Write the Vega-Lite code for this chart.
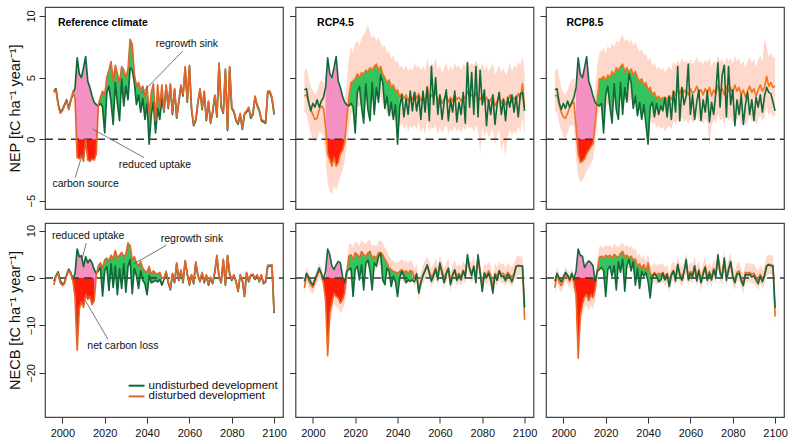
{
"$schema": "https://vega.github.io/schema/vega-lite/v6.json",
"background": "white",
"padding": {"left": 6, "top": 6, "right": 5, "bottom": 5},
"spacing": 12,
"config": {
 "font": "Liberation Sans",
 "view": {"stroke": "#444", "strokeWidth": 1.2},
 "axis": {"domain": false, "grid": false, "tickColor": "#333", "tickSize": 6, "tickWidth": 1, "labelFontSize": 11, "labelColor": "#111", "titleFontSize": 14.5, "titleFontWeight": "normal", "titleColor": "#111"},
 "line": {"strokeJoin": "round"}
},
"datasets": {
"A": [
{"t":1996,"u":3.9,"d":3.8},{"t":1997,"u":4.1,"d":4.0},{"t":1998,"u":2.9,"d":2.8},{"t":1999,"u":2.2,"d":2.1},{"t":2000,"u":2.4,"d":2.3},
{"t":2001,"u":2.8,"d":2.7},{"t":2002,"u":3.2,"d":3.1},{"t":2003,"u":2.5,"d":2.4},{"t":2004,"u":3.2,"d":3.1},{"t":2005,"u":3.6,"d":3.9},
{"t":2006,"u":4.2,"d":3.3},{"t":2007,"u":6.6,"d":-1.5},{"t":2008,"u":5.3,"d":-1.6},{"t":2009,"u":5.0,"d":-1.3},{"t":2010,"u":5.8,"d":-1.8},
{"t":2011,"u":6.7,"d":0.0},{"t":2012,"u":4.7,"d":-1.7},{"t":2013,"u":4.2,"d":-1.8},{"t":2014,"u":3.5,"d":-1.6},{"t":2015,"u":3.0,"d":-1.7},
{"t":2016,"u":2.8,"d":-1.2},{"t":2017,"u":2.7,"d":2.8},{"t":2018,"u":2.9,"d":3.4},{"t":2019,"u":2.6,"d":3.9},{"t":2020,"u":0.5,"d":3.6},
{"t":2021,"u":3.8,"d":5.0},{"t":2022,"u":4.3,"d":5.6},{"t":2023,"u":3.0,"d":6.3},{"t":2024,"u":1.2,"d":4.7},{"t":2025,"u":4.6,"d":6.0},
{"t":2026,"u":2.9,"d":5.3},{"t":2027,"u":1.5,"d":4.6},{"t":2028,"u":4.9,"d":5.9},{"t":2029,"u":2.7,"d":5.6},{"t":2030,"u":4.3,"d":5.0},
{"t":2031,"u":3.2,"d":5.7},{"t":2032,"u":5.8,"d":8.1},{"t":2033,"u":5.6,"d":7.7},{"t":2034,"u":4.6,"d":5.3},{"t":2035,"u":2.8,"d":4.3},
{"t":2036,"u":3.6,"d":4.6},{"t":2037,"u":2.2,"d":4.0},{"t":2038,"u":3.3,"d":4.3},{"t":2039,"u":1.6,"d":3.4},{"t":2040,"u":2.9,"d":4.3},
{"t":2041,"u":-0.4,"d":2.0},{"t":2042,"u":2.0,"d":3.8},{"t":2043,"u":3.0,"d":4.5},{"t":2044,"u":0.5,"d":1.5},{"t":2045,"u":2.5,"d":4.4},
{"t":2046,"u":1.6,"d":2.6},{"t":2047,"u":3.3,"d":4.4},{"t":2048,"u":2.2,"d":2.3},{"t":2049,"u":4.3,"d":4.4},{"t":2050,"u":2.5,"d":2.6},
{"t":2051,"u":4.4,"d":4.5},{"t":2052,"u":2.0,"d":2.1},{"t":2053,"u":4.0,"d":4.1},{"t":2054,"u":1.7,"d":1.8},{"t":2055,"u":3.0,"d":3.1},
{"t":2056,"u":4.3,"d":4.4},{"t":2057,"u":3.5,"d":3.6},{"t":2058,"u":5.8,"d":5.9},{"t":2059,"u":3.0,"d":3.1},{"t":2060,"u":5.9,"d":6.0},
{"t":2061,"u":2.4,"d":2.5},{"t":2062,"u":1.1,"d":1.2},{"t":2063,"u":1.5,"d":1.6},{"t":2064,"u":2.9,"d":3.0},{"t":2065,"u":4.0,"d":4.1},
{"t":2066,"u":2.4,"d":2.5},{"t":2067,"u":3.8,"d":3.9},{"t":2068,"u":1.5,"d":1.6},{"t":2069,"u":3.0,"d":3.1},{"t":2070,"u":1.3,"d":1.4},
{"t":2071,"u":2.2,"d":2.3},{"t":2072,"u":3.5,"d":3.6},{"t":2073,"u":1.8,"d":1.9},{"t":2074,"u":6.1,"d":6.2},{"t":2075,"u":2.6,"d":2.7},
{"t":2076,"u":2.1,"d":2.2},{"t":2077,"u":5.6,"d":5.7},{"t":2078,"u":0.7,"d":0.8},{"t":2079,"u":5.8,"d":5.9},{"t":2080,"u":2.5,"d":2.6},
{"t":2081,"u":2.2,"d":2.3},{"t":2082,"u":1.5,"d":1.6},{"t":2083,"u":1.2,"d":1.3},{"t":2084,"u":2.0,"d":2.1},{"t":2085,"u":0.8,"d":0.9},
{"t":2086,"u":2.0,"d":2.1},{"t":2087,"u":2.2,"d":2.3},{"t":2088,"u":2.5,"d":2.6},{"t":2089,"u":1.7,"d":1.8},{"t":2090,"u":2.0,"d":2.1},
{"t":2091,"u":3.4,"d":3.5},{"t":2092,"u":2.7,"d":2.8},{"t":2093,"u":2.3,"d":2.4},{"t":2094,"u":1.5,"d":1.6},{"t":2095,"u":1.4,"d":1.5},
{"t":2096,"u":1.3,"d":1.4},{"t":2097,"u":3.8,"d":3.9},{"t":2098,"u":3.8,"d":3.9},{"t":2099,"u":3.3,"d":3.4},{"t":2100,"u":2.0,"d":2.1}
],
"B": [
{"t":1996,"u":4.0,"d":3.5,"lo":2.2,"hi":5.5},{"t":1997,"u":4.1,"d":3.6,"lo":2.0,"hi":5.8},{"t":1998,"u":3.0,"d":3.0,"lo":1.2,"hi":5.0},{"t":1999,"u":2.3,"d":2.4,"lo":0.5,"hi":4.3},{"t":2000,"u":2.9,"d":2.0,"lo":0.0,"hi":4.0},
{"t":2001,"u":2.6,"d":1.6,"lo":-0.3,"hi":3.6},{"t":2002,"u":3.2,"d":1.7,"lo":0.0,"hi":3.8},{"t":2003,"u":2.6,"d":2.4,"lo":0.6,"hi":4.5},{"t":2004,"u":3.1,"d":2.7,"lo":0.5,"hi":4.8},{"t":2005,"u":3.4,"d":2.5,"lo":0.3,"hi":4.6},
{"t":2006,"u":4.2,"d":1.0,"lo":-1.5,"hi":3.8},{"t":2007,"u":6.6,"d":-1.2,"lo":-3.6,"hi":1.5},{"t":2008,"u":5.3,"d":-1.7,"lo":-4.2,"hi":0.6},{"t":2009,"u":5.0,"d":-2.2,"lo":-4.5,"hi":0.2},{"t":2010,"u":5.8,"d":-1.5,"lo":-3.8,"hi":0.8},
{"t":2011,"u":6.7,"d":-2.2,"lo":-4.2,"hi":0.5},{"t":2012,"u":4.7,"d":-1.9,"lo":-3.6,"hi":1.0},{"t":2013,"u":4.2,"d":-1.2,"lo":-3.0,"hi":1.8},{"t":2014,"u":3.5,"d":-0.9,"lo":-2.6,"hi":2.4},{"t":2015,"u":3.0,"d":-0.3,"lo":-1.8,"hi":3.2},
{"t":2016,"u":2.8,"d":1.6,"lo":-0.5,"hi":4.5},{"t":2017,"u":2.7,"d":3.4,"lo":1.0,"hi":6.5},{"t":2018,"u":2.9,"d":4.6,"lo":2.0,"hi":7.5},{"t":2019,"u":2.6,"d":4.7,"lo":2.3,"hi":7.0},{"t":2020,"u":0.5,"d":4.9,"lo":2.5,"hi":7.8},
{"t":2021,"u":3.8,"d":5.3,"lo":2.8,"hi":8.0},{"t":2022,"u":4.3,"d":5.0,"lo":2.6,"hi":7.6},{"t":2023,"u":2.6,"d":5.4,"lo":3.0,"hi":8.2},{"t":2024,"u":1.3,"d":5.3,"lo":2.8,"hi":8.5},{"t":2025,"u":4.5,"d":5.6,"lo":3.0,"hi":8.8},
{"t":2026,"u":2.4,"d":5.5,"lo":3.2,"hi":9.3},{"t":2027,"u":1.5,"d":5.8,"lo":3.4,"hi":8.6},{"t":2028,"u":4.6,"d":5.6,"lo":3.0,"hi":8.2},{"t":2029,"u":2.0,"d":5.9,"lo":3.5,"hi":8.4},{"t":2030,"u":4.2,"d":6.1,"lo":3.8,"hi":8.0},
{"t":2031,"u":3.0,"d":5.6,"lo":3.2,"hi":8.3},{"t":2032,"u":5.2,"d":5.9,"lo":3.5,"hi":7.8},{"t":2033,"u":4.6,"d":5.3,"lo":3.0,"hi":7.5},{"t":2034,"u":2.5,"d":5.0,"lo":2.6,"hi":7.6},{"t":2035,"u":3.5,"d":4.6,"lo":2.0,"hi":7.0},
{"t":2036,"u":1.9,"d":4.8,"lo":2.4,"hi":7.2},{"t":2037,"u":3.0,"d":4.2,"lo":1.8,"hi":6.5},{"t":2038,"u":1.6,"d":4.4,"lo":2.0,"hi":6.8},{"t":2039,"u":2.8,"d":3.9,"lo":1.4,"hi":6.2},{"t":2040,"u":-0.4,"d":4.0,"lo":1.6,"hi":6.4},
{"t":2041,"u":2.6,"d":3.4,"lo":1.0,"hi":5.8},{"t":2042,"u":3.6,"d":3.7,"lo":1.3,"hi":6.0},{"t":2043,"u":1.8,"d":3.3,"lo":0.8,"hi":5.6},{"t":2044,"u":3.3,"d":3.6,"lo":1.2,"hi":6.0},{"t":2045,"u":2.0,"d":3.1,"lo":0.6,"hi":5.5},
{"t":2046,"u":3.9,"d":3.5,"lo":1.1,"hi":5.8},{"t":2047,"u":2.3,"d":3.2,"lo":0.8,"hi":5.5},{"t":2048,"u":3.8,"d":3.8,"lo":1.2,"hi":6.2},{"t":2049,"u":2.3,"d":3.3,"lo":0.8,"hi":5.8},{"t":2050,"u":3.5,"d":3.7,"lo":1.3,"hi":6.0},
{"t":2051,"u":1.6,"d":3.1,"lo":0.5,"hi":5.6},{"t":2052,"u":3.9,"d":3.5,"lo":1.0,"hi":6.0},{"t":2053,"u":2.2,"d":3.0,"lo":0.4,"hi":5.5},{"t":2054,"u":4.2,"d":4.3,"lo":1.5,"hi":6.6},{"t":2055,"u":1.5,"d":3.2,"lo":0.6,"hi":5.8},
{"t":2056,"u":5.9,"d":3.6,"lo":1.0,"hi":6.2},{"t":2057,"u":2.8,"d":3.4,"lo":0.8,"hi":6.0},{"t":2058,"u":5.0,"d":3.9,"lo":1.2,"hi":6.6},{"t":2059,"u":2.0,"d":3.0,"lo":0.3,"hi":5.6},{"t":2060,"u":3.6,"d":3.5,"lo":1.0,"hi":6.0},
{"t":2061,"u":1.6,"d":2.9,"lo":0.5,"hi":5.4},{"t":2062,"u":3.0,"d":3.3,"lo":0.8,"hi":5.8},{"t":2063,"u":4.0,"d":3.6,"lo":1.2,"hi":6.2},{"t":2064,"u":1.5,"d":3.0,"lo":0.5,"hi":5.5},{"t":2065,"u":3.2,"d":3.4,"lo":0.8,"hi":6.0},
{"t":2066,"u":2.2,"d":3.1,"lo":0.6,"hi":5.6},{"t":2067,"u":3.9,"d":3.6,"lo":1.1,"hi":6.2},{"t":2068,"u":1.4,"d":3.2,"lo":0.6,"hi":5.8},{"t":2069,"u":3.0,"d":3.4,"lo":0.9,"hi":6.0},{"t":2070,"u":2.0,"d":3.1,"lo":0.5,"hi":5.6},
{"t":2071,"u":3.8,"d":3.5,"lo":1.0,"hi":6.1},{"t":2072,"u":1.3,"d":3.3,"lo":0.7,"hi":5.9},{"t":2073,"u":6.2,"d":3.9,"lo":1.2,"hi":6.5},{"t":2074,"u":2.6,"d":3.4,"lo":0.8,"hi":6.0},{"t":2075,"u":5.4,"d":3.6,"lo":1.0,"hi":6.2},
{"t":2076,"u":2.0,"d":3.3,"lo":0.6,"hi":5.9},{"t":2077,"u":5.9,"d":3.8,"lo":1.1,"hi":6.4},{"t":2078,"u":1.8,"d":3.4,"lo":0.7,"hi":6.0},{"t":2079,"u":5.6,"d":3.2,"lo":-1.2,"hi":5.6},{"t":2080,"u":2.8,"d":3.6,"lo":0.9,"hi":6.2},
{"t":2081,"u":4.0,"d":3.0,"lo":0.2,"hi":5.6},{"t":2082,"u":1.1,"d":3.4,"lo":0.7,"hi":6.0},{"t":2083,"u":3.2,"d":2.9,"lo":0.1,"hi":5.5},{"t":2084,"u":2.0,"d":3.2,"lo":0.5,"hi":5.8},{"t":2085,"u":3.6,"d":3.5,"lo":0.8,"hi":6.2},
{"t":2086,"u":1.2,"d":2.7,"lo":-0.5,"hi":5.2},{"t":2087,"u":2.8,"d":3.1,"lo":0.3,"hi":5.6},{"t":2088,"u":3.8,"d":3.5,"lo":0.8,"hi":6.0},{"t":2089,"u":2.0,"d":2.9,"lo":-1.0,"hi":5.4},{"t":2090,"u":3.2,"d":3.3,"lo":-0.2,"hi":5.8},
{"t":2091,"u":1.5,"d":2.8,"lo":-1.5,"hi":5.2},{"t":2092,"u":3.4,"d":3.1,"lo":0.2,"hi":5.5},{"t":2093,"u":2.6,"d":3.6,"lo":0.8,"hi":6.2},{"t":2094,"u":3.6,"d":3.0,"lo":0.3,"hi":5.5},{"t":2095,"u":2.2,"d":3.4,"lo":0.7,"hi":6.0},
{"t":2096,"u":3.5,"d":3.1,"lo":0.4,"hi":5.8},{"t":2097,"u":1.8,"d":3.7,"lo":1.0,"hi":6.3},{"t":2098,"u":3.7,"d":3.3,"lo":0.6,"hi":6.0},{"t":2099,"u":3.8,"d":4.5,"lo":1.8,"hi":6.8},{"t":2100,"u":2.3,"d":2.6,"lo":0.2,"hi":5.2}
],
"C": [
{"t":1996,"u":4.0,"d":3.5,"lo":2.3,"hi":5.5},{"t":1997,"u":4.1,"d":3.6,"lo":2.2,"hi":5.8},{"t":1998,"u":3.0,"d":2.8,"lo":1.3,"hi":5.0},{"t":1999,"u":2.4,"d":2.2,"lo":0.7,"hi":4.2},{"t":2000,"u":2.9,"d":1.8,"lo":0.2,"hi":3.8},
{"t":2001,"u":2.5,"d":1.7,"lo":0.1,"hi":3.6},{"t":2002,"u":3.1,"d":2.1,"lo":0.5,"hi":4.0},{"t":2003,"u":2.6,"d":2.6,"lo":1.0,"hi":4.5},{"t":2004,"u":3.0,"d":2.9,"lo":1.2,"hi":4.8},{"t":2005,"u":3.4,"d":3.0,"lo":1.0,"hi":5.0},
{"t":2006,"u":4.2,"d":1.0,"lo":-1.5,"hi":3.5},{"t":2007,"u":6.6,"d":-1.2,"lo":-3.0,"hi":1.0},{"t":2008,"u":5.3,"d":-1.9,"lo":-3.5,"hi":0.3},{"t":2009,"u":5.0,"d":-1.8,"lo":-3.4,"hi":0.5},{"t":2010,"u":5.8,"d":-1.6,"lo":-3.0,"hi":0.8},
{"t":2011,"u":6.7,"d":-1.2,"lo":-2.6,"hi":1.2},{"t":2012,"u":4.7,"d":-0.9,"lo":-2.3,"hi":1.6},{"t":2013,"u":4.2,"d":-0.6,"lo":-2.0,"hi":2.0},{"t":2014,"u":3.5,"d":-0.4,"lo":-1.6,"hi":2.8},{"t":2015,"u":3.0,"d":1.2,"lo":-0.5,"hi":4.0},
{"t":2016,"u":2.8,"d":3.2,"lo":1.5,"hi":6.0},{"t":2017,"u":2.7,"d":4.9,"lo":2.5,"hi":7.0},{"t":2018,"u":2.9,"d":4.9,"lo":2.6,"hi":7.2},{"t":2019,"u":0.5,"d":5.1,"lo":2.8,"hi":7.4},{"t":2020,"u":3.6,"d":4.8,"lo":2.5,"hi":7.0},
{"t":2021,"u":4.3,"d":5.2,"lo":2.9,"hi":7.6},{"t":2022,"u":2.6,"d":5.0,"lo":2.7,"hi":7.3},{"t":2023,"u":1.3,"d":5.5,"lo":3.2,"hi":7.8},{"t":2024,"u":4.5,"d":5.2,"lo":2.9,"hi":7.5},{"t":2025,"u":2.4,"d":5.8,"lo":3.4,"hi":8.0},
{"t":2026,"u":1.6,"d":5.6,"lo":3.2,"hi":7.8},{"t":2027,"u":4.6,"d":5.9,"lo":3.5,"hi":8.2},{"t":2028,"u":2.0,"d":6.1,"lo":3.7,"hi":8.5},{"t":2029,"u":4.2,"d":5.5,"lo":3.1,"hi":7.9},{"t":2030,"u":3.0,"d":5.8,"lo":3.4,"hi":8.2},
{"t":2031,"u":5.3,"d":5.4,"lo":3.0,"hi":7.8},{"t":2032,"u":4.6,"d":5.7,"lo":3.3,"hi":8.1},{"t":2033,"u":2.5,"d":5.2,"lo":2.8,"hi":7.6},{"t":2034,"u":3.5,"d":5.5,"lo":3.1,"hi":7.9},{"t":2035,"u":1.9,"d":5.0,"lo":2.6,"hi":7.4},
{"t":2036,"u":3.0,"d":4.7,"lo":2.3,"hi":7.1},{"t":2037,"u":1.6,"d":4.9,"lo":2.5,"hi":7.3},{"t":2038,"u":2.8,"d":4.4,"lo":2.0,"hi":6.8},{"t":2039,"u":1.2,"d":4.6,"lo":2.2,"hi":7.0},{"t":2040,"u":-0.4,"d":4.0,"lo":1.6,"hi":6.4},
{"t":2041,"u":2.6,"d":4.2,"lo":1.8,"hi":6.6},{"t":2042,"u":3.0,"d":3.6,"lo":1.2,"hi":6.0},{"t":2043,"u":1.8,"d":3.8,"lo":1.4,"hi":6.2},{"t":2044,"u":2.9,"d":3.3,"lo":0.9,"hi":5.7},{"t":2045,"u":2.0,"d":3.5,"lo":1.1,"hi":5.9},
{"t":2046,"u":2.7,"d":3.2,"lo":0.8,"hi":5.6},{"t":2047,"u":2.3,"d":3.4,"lo":1.0,"hi":5.8},{"t":2048,"u":3.4,"d":3.0,"lo":0.6,"hi":5.4},{"t":2049,"u":1.8,"d":3.3,"lo":0.9,"hi":5.7},{"t":2050,"u":3.5,"d":3.5,"lo":1.1,"hi":5.9},
{"t":2051,"u":1.6,"d":3.2,"lo":0.8,"hi":5.6},{"t":2052,"u":3.9,"d":3.9,"lo":1.5,"hi":6.3},{"t":2053,"u":2.2,"d":3.6,"lo":1.2,"hi":6.0},{"t":2054,"u":5.9,"d":4.0,"lo":1.6,"hi":6.4},{"t":2055,"u":1.5,"d":3.7,"lo":1.3,"hi":6.1},
{"t":2056,"u":4.2,"d":4.2,"lo":1.8,"hi":6.6},{"t":2057,"u":2.8,"d":3.8,"lo":1.4,"hi":6.2},{"t":2058,"u":3.5,"d":4.0,"lo":1.6,"hi":6.4},{"t":2059,"u":6.1,"d":3.6,"lo":1.2,"hi":6.0},{"t":2060,"u":2.0,"d":4.1,"lo":1.7,"hi":6.5},
{"t":2061,"u":3.6,"d":3.7,"lo":1.3,"hi":6.1},{"t":2062,"u":1.6,"d":3.9,"lo":1.5,"hi":6.3},{"t":2063,"u":3.0,"d":4.3,"lo":1.9,"hi":6.7},{"t":2064,"u":4.0,"d":3.8,"lo":1.4,"hi":6.2},{"t":2065,"u":1.5,"d":4.0,"lo":1.6,"hi":6.4},
{"t":2066,"u":3.2,"d":3.6,"lo":1.2,"hi":6.0},{"t":2067,"u":2.2,"d":4.1,"lo":1.7,"hi":6.5},{"t":2068,"u":3.9,"d":3.8,"lo":1.4,"hi":6.2},{"t":2069,"u":1.4,"d":4.2,"lo":-0.5,"hi":6.6},{"t":2070,"u":3.0,"d":3.5,"lo":1.1,"hi":5.9},
{"t":2071,"u":2.0,"d":4.0,"lo":1.6,"hi":6.4},{"t":2072,"u":3.8,"d":3.7,"lo":1.3,"hi":6.1},{"t":2073,"u":6.2,"d":4.4,"lo":2.0,"hi":6.8},{"t":2074,"u":2.6,"d":3.9,"lo":1.5,"hi":6.3},{"t":2075,"u":5.2,"d":4.1,"lo":1.7,"hi":6.5},
{"t":2076,"u":6.0,"d":3.6,"lo":1.2,"hi":6.0},{"t":2077,"u":1.8,"d":4.3,"lo":1.9,"hi":6.7},{"t":2078,"u":5.9,"d":3.9,"lo":1.5,"hi":6.3},{"t":2079,"u":2.8,"d":4.2,"lo":1.8,"hi":6.6},{"t":2080,"u":4.0,"d":3.7,"lo":1.3,"hi":6.1},
{"t":2081,"u":1.1,"d":4.4,"lo":2.0,"hi":6.8},{"t":2082,"u":3.2,"d":3.9,"lo":1.5,"hi":6.3},{"t":2083,"u":2.0,"d":4.2,"lo":1.8,"hi":6.6},{"t":2084,"u":3.6,"d":3.6,"lo":1.2,"hi":6.0},{"t":2085,"u":1.2,"d":4.0,"lo":1.6,"hi":6.4},
{"t":2086,"u":2.8,"d":3.4,"lo":1.0,"hi":5.8},{"t":2087,"u":3.8,"d":3.9,"lo":1.5,"hi":6.3},{"t":2088,"u":2.0,"d":4.3,"lo":1.9,"hi":6.7},{"t":2089,"u":3.2,"d":3.8,"lo":1.4,"hi":6.2},{"t":2090,"u":1.5,"d":4.1,"lo":1.7,"hi":6.5},
{"t":2091,"u":3.4,"d":3.5,"lo":1.1,"hi":5.9},{"t":2092,"u":2.6,"d":4.0,"lo":1.6,"hi":6.4},{"t":2093,"u":3.6,"d":4.4,"lo":2.0,"hi":6.8},{"t":2094,"u":2.2,"d":3.9,"lo":1.5,"hi":6.3},{"t":2095,"u":3.5,"d":4.2,"lo":1.8,"hi":8.2},
{"t":2096,"u":4.2,"d":5.1,"lo":2.7,"hi":7.5},{"t":2097,"u":3.8,"d":4.3,"lo":1.9,"hi":6.7},{"t":2098,"u":3.7,"d":4.6,"lo":2.2,"hi":7.0},{"t":2099,"u":3.0,"d":4.2,"lo":1.8,"hi":6.6},{"t":2100,"u":2.3,"d":4.3,"lo":1.9,"hi":6.7}
],
"D": [
{"t":1996,"u":-0.7,"d":-1.5},{"t":1997,"u":0.5,"d":0.3},{"t":1998,"u":1.3,"d":1.0},{"t":1999,"u":-0.5,"d":-1.0},{"t":2000,"u":-1.3,"d":-1.6},
{"t":2001,"u":-1.0,"d":-1.2},{"t":2002,"u":0.7,"d":0.4},{"t":2003,"u":1.9,"d":1.6},{"t":2004,"u":1.1,"d":0.8},{"t":2005,"u":-0.3,"d":-0.6},
{"t":2006,"u":1.0,"d":-4.0},{"t":2007,"u":6.1,"d":-15.2},{"t":2008,"u":4.5,"d":-6.5},{"t":2009,"u":4.7,"d":-5.0},{"t":2010,"u":2.4,"d":-6.2},
{"t":2011,"u":4.5,"d":-3.5},{"t":2012,"u":3.2,"d":-4.5},{"t":2013,"u":3.9,"d":-3.8},{"t":2014,"u":3.2,"d":-5.6},{"t":2015,"u":1.8,"d":-4.8},
{"t":2016,"u":1.0,"d":0.5},{"t":2017,"u":1.5,"d":2.6},{"t":2018,"u":2.2,"d":3.2},{"t":2019,"u":-3.8,"d":2.0},{"t":2020,"u":1.6,"d":3.8},
{"t":2021,"u":2.4,"d":4.2},{"t":2022,"u":-2.6,"d":3.5},{"t":2023,"u":3.0,"d":4.8},{"t":2024,"u":-2.0,"d":4.0},{"t":2025,"u":2.5,"d":5.8},
{"t":2026,"u":-3.5,"d":4.2},{"t":2027,"u":2.0,"d":4.8},{"t":2028,"u":-2.2,"d":5.4},{"t":2029,"u":3.0,"d":4.5},{"t":2030,"u":-3.0,"d":5.0},
{"t":2031,"u":2.5,"d":7.4},{"t":2032,"u":3.9,"d":6.8},{"t":2033,"u":-3.3,"d":3.8},{"t":2034,"u":2.0,"d":4.5},{"t":2035,"u":0.5,"d":3.2},
{"t":2036,"u":-2.2,"d":2.5},{"t":2037,"u":1.5,"d":3.5},{"t":2038,"u":-0.5,"d":2.0},{"t":2039,"u":-1.2,"d":1.5},{"t":2040,"u":-3.5,"d":1.2},
{"t":2041,"u":0.5,"d":2.4},{"t":2042,"u":-1.0,"d":0.8},{"t":2043,"u":-0.8,"d":1.5},{"t":2044,"u":-0.5,"d":1.0},{"t":2045,"u":-0.8,"d":0.8},
{"t":2046,"u":-0.3,"d":1.2},{"t":2047,"u":-1.5,"d":0.0},{"t":2048,"u":-0.3,"d":-0.1},{"t":2049,"u":1.2,"d":1.4},{"t":2050,"u":-1.0,"d":-0.8},
{"t":2051,"u":-2.5,"d":-2.3},{"t":2052,"u":0.8,"d":1.0},{"t":2053,"u":-1.0,"d":-0.8},{"t":2054,"u":3.0,"d":3.2},{"t":2055,"u":-0.5,"d":-0.3},
{"t":2056,"u":1.5,"d":1.7},{"t":2057,"u":-1.0,"d":-0.8},{"t":2058,"u":3.5,"d":3.7},{"t":2059,"u":0.8,"d":1.0},{"t":2060,"u":-1.5,"d":-1.3},
{"t":2061,"u":0.5,"d":0.7},{"t":2062,"u":-1.2,"d":-1.0},{"t":2063,"u":3.2,"d":3.4},{"t":2064,"u":0.5,"d":0.7},{"t":2065,"u":-0.8,"d":-0.6},
{"t":2066,"u":1.0,"d":1.2},{"t":2067,"u":-1.0,"d":-0.8},{"t":2068,"u":0.5,"d":0.7},{"t":2069,"u":-1.5,"d":-1.3},{"t":2070,"u":0.0,"d":0.2},
{"t":2071,"u":-1.2,"d":-1.0},{"t":2072,"u":1.2,"d":1.4},{"t":2073,"u":4.6,"d":4.8},{"t":2074,"u":0.0,"d":0.2},{"t":2075,"u":-1.0,"d":-0.8},
{"t":2076,"u":3.8,"d":4.0},{"t":2077,"u":-1.5,"d":-1.3},{"t":2078,"u":4.6,"d":4.8},{"t":2079,"u":0.8,"d":1.0},{"t":2080,"u":-0.5,"d":-0.3},
{"t":2081,"u":0.5,"d":0.7},{"t":2082,"u":-0.8,"d":-0.6},{"t":2083,"u":-2.8,"d":-2.6},{"t":2084,"u":0.5,"d":0.7},{"t":2085,"u":-0.5,"d":-0.3},
{"t":2086,"u":-3.9,"d":-3.7},{"t":2087,"u":1.0,"d":1.2},{"t":2088,"u":-0.8,"d":-0.6},{"t":2089,"u":0.5,"d":0.7},{"t":2090,"u":0.6,"d":0.8},
{"t":2091,"u":-0.3,"d":-0.1},{"t":2092,"u":0.5,"d":0.7},{"t":2093,"u":-0.8,"d":-0.6},{"t":2094,"u":0.5,"d":0.7},{"t":2095,"u":-1.2,"d":-1.0},
{"t":2096,"u":-0.8,"d":-0.6},{"t":2097,"u":2.5,"d":2.7},{"t":2098,"u":2.5,"d":2.7},{"t":2099,"u":2.6,"d":2.8},{"t":2100,"u":-7.4,"d":-7.2}
],
"E": [
{"t":1996,"u":-0.7,"d":-2.1,"lo":-3.6,"hi":-0.6},{"t":1997,"u":1.0,"d":0.8,"lo":-0.7,"hi":2.3},{"t":1998,"u":0.2,"d":-0.5,"lo":-2.0,"hi":1.0},{"t":1999,"u":-0.8,"d":-1.4,"lo":-2.9,"hi":0.1},{"t":2000,"u":-1.5,"d":-2.0,"lo":-3.5,"hi":-0.5},
{"t":2001,"u":-0.2,"d":-0.8,"lo":-2.3,"hi":0.7},{"t":2002,"u":0.8,"d":0.5,"lo":-1.0,"hi":2.0},{"t":2003,"u":2.1,"d":1.6,"lo":0.1,"hi":3.1},{"t":2004,"u":1.0,"d":0.8,"lo":-0.7,"hi":2.3},{"t":2005,"u":-0.3,"d":-1.0,"lo":-2.5,"hi":0.5},
{"t":2006,"u":1.5,"d":-4.5,"lo":-6.5,"hi":-1.0},{"t":2007,"u":6.1,"d":-16.4,"lo":-17.0,"hi":-10.0},{"t":2008,"u":4.9,"d":-7.4,"lo":-10.0,"hi":-4.0},{"t":2009,"u":2.5,"d":-5.3,"lo":-7.5,"hi":-2.5},{"t":2010,"u":1.8,"d":-3.2,"lo":-5.5,"hi":-0.5},
{"t":2011,"u":2.8,"d":-3.9,"lo":-6.0,"hi":-1.5},{"t":2012,"u":3.5,"d":-4.2,"lo":-6.5,"hi":-1.5},{"t":2013,"u":3.2,"d":-5.3,"lo":-7.5,"hi":-2.5},{"t":2014,"u":0.4,"d":-4.6,"lo":-6.8,"hi":-2.0},{"t":2015,"u":-1.0,"d":-3.2,"lo":-5.5,"hi":-0.5},
{"t":2016,"u":1.4,"d":0.8,"lo":-1.5,"hi":3.0},{"t":2017,"u":1.8,"d":4.6,"lo":2.1,"hi":7.1},{"t":2018,"u":2.1,"d":4.9,"lo":2.4,"hi":7.4},{"t":2019,"u":-3.9,"d":3.9,"lo":1.4,"hi":6.4},{"t":2020,"u":1.8,"d":5.3,"lo":2.8,"hi":7.8},
{"t":2021,"u":2.5,"d":4.9,"lo":2.4,"hi":7.4},{"t":2022,"u":-0.4,"d":4.2,"lo":1.7,"hi":6.7},{"t":2023,"u":2.8,"d":5.6,"lo":3.1,"hi":8.1},{"t":2024,"u":-2.5,"d":4.9,"lo":2.4,"hi":7.4},{"t":2025,"u":3.1,"d":4.6,"lo":2.1,"hi":7.1},
{"t":2026,"u":3.8,"d":5.3,"lo":2.8,"hi":7.8},{"t":2027,"u":1.5,"d":5.6,"lo":3.1,"hi":8.1},{"t":2028,"u":-2.5,"d":4.2,"lo":1.7,"hi":6.7},{"t":2029,"u":3.2,"d":4.6,"lo":2.1,"hi":7.1},{"t":2030,"u":2.5,"d":4.2,"lo":1.7,"hi":6.7},
{"t":2031,"u":4.5,"d":5.3,"lo":2.8,"hi":7.8},{"t":2032,"u":5.2,"d":5.4,"lo":2.9,"hi":7.9},{"t":2033,"u":-0.4,"d":4.9,"lo":2.4,"hi":7.4},{"t":2034,"u":-1.4,"d":3.9,"lo":1.4,"hi":6.4},{"t":2035,"u":2.1,"d":3.2,"lo":0.7,"hi":5.7},
{"t":2036,"u":1.4,"d":2.1,"lo":-0.4,"hi":4.6},{"t":2037,"u":-1.8,"d":1.8,"lo":-0.4,"hi":4.0},{"t":2038,"u":0.4,"d":1.4,"lo":-0.8,"hi":3.6},{"t":2039,"u":-0.7,"d":1.2,"lo":-1.0,"hi":3.4},{"t":2040,"u":-3.9,"d":1.0,"lo":-1.2,"hi":3.2},
{"t":2041,"u":0.0,"d":1.4,"lo":-0.8,"hi":3.6},{"t":2042,"u":1.4,"d":1.8,"lo":-0.4,"hi":4.0},{"t":2043,"u":0.4,"d":1.2,"lo":-1.0,"hi":3.4},{"t":2044,"u":-1.0,"d":1.5,"lo":-0.7,"hi":3.7},{"t":2045,"u":-0.4,"d":1.0,"lo":-1.2,"hi":3.2},
{"t":2046,"u":-0.7,"d":1.6,"lo":-0.6,"hi":3.8},{"t":2047,"u":-0.4,"d":1.4,"lo":-0.6,"hi":3.4},{"t":2048,"u":-0.8,"d":0.0,"lo":-2.0,"hi":2.0},{"t":2049,"u":0.8,"d":1.0,"lo":-1.0,"hi":3.0},{"t":2050,"u":-3.2,"d":-2.6,"lo":-4.6,"hi":-0.6},
{"t":2051,"u":-1.0,"d":-0.8,"lo":-2.8,"hi":1.2},{"t":2052,"u":0.5,"d":0.8,"lo":-1.2,"hi":2.8},{"t":2053,"u":1.5,"d":1.8,"lo":-0.2,"hi":3.8},{"t":2054,"u":2.8,"d":2.5,"lo":0.5,"hi":4.5},{"t":2055,"u":1.0,"d":1.4,"lo":-0.6,"hi":3.4},
{"t":2056,"u":-0.7,"d":0.0,"lo":-2.0,"hi":2.0},{"t":2057,"u":0.5,"d":1.0,"lo":-1.0,"hi":3.0},{"t":2058,"u":1.8,"d":2.2,"lo":0.2,"hi":4.2},{"t":2059,"u":-0.4,"d":0.5,"lo":-1.5,"hi":2.5},{"t":2060,"u":3.2,"d":2.8,"lo":0.8,"hi":4.8},
{"t":2061,"u":1.0,"d":1.5,"lo":-0.5,"hi":3.5},{"t":2062,"u":-1.0,"d":0.0,"lo":-2.0,"hi":2.0},{"t":2063,"u":0.8,"d":1.2,"lo":-0.8,"hi":3.2},{"t":2064,"u":2.0,"d":2.1,"lo":0.1,"hi":4.1},{"t":2065,"u":-1.4,"d":-0.8,"lo":-2.8,"hi":1.2},
{"t":2066,"u":0.5,"d":0.8,"lo":-1.2,"hi":2.8},{"t":2067,"u":1.7,"d":1.8,"lo":-0.2,"hi":3.8},{"t":2068,"u":-0.5,"d":0.4,"lo":-1.6,"hi":2.4},{"t":2069,"u":0.6,"d":1.0,"lo":-1.0,"hi":3.0},{"t":2070,"u":-0.4,"d":0.3,"lo":-1.7,"hi":2.3},
{"t":2071,"u":1.5,"d":1.6,"lo":-0.4,"hi":3.6},{"t":2072,"u":0.2,"d":0.8,"lo":-1.2,"hi":2.8},{"t":2073,"u":4.9,"d":4.0,"lo":2.0,"hi":6.0},{"t":2074,"u":2.0,"d":2.2,"lo":0.2,"hi":4.2},{"t":2075,"u":0.5,"d":1.0,"lo":-1.0,"hi":3.0},
{"t":2076,"u":2.5,"d":2.4,"lo":0.4,"hi":4.4},{"t":2077,"u":-1.0,"d":0.2,"lo":-1.8,"hi":2.2},{"t":2078,"u":4.9,"d":4.2,"lo":2.2,"hi":6.2},{"t":2079,"u":1.0,"d":1.5,"lo":-0.5,"hi":3.5},{"t":2080,"u":-2.8,"d":-1.8,"lo":-3.8,"hi":0.2},
{"t":2081,"u":1.0,"d":1.2,"lo":-0.8,"hi":3.2},{"t":2082,"u":0.0,"d":0.5,"lo":-1.5,"hi":2.5},{"t":2083,"u":1.0,"d":1.5,"lo":-0.5,"hi":3.5},{"t":2084,"u":-0.4,"d":0.5,"lo":-1.5,"hi":2.5},{"t":2085,"u":-3.2,"d":-2.0,"lo":-4.0,"hi":0.0},
{"t":2086,"u":0.7,"d":1.0,"lo":-1.0,"hi":3.0},{"t":2087,"u":-0.5,"d":0.3,"lo":-1.7,"hi":2.3},{"t":2088,"u":1.5,"d":1.6,"lo":-0.4,"hi":3.6},{"t":2089,"u":0.3,"d":0.8,"lo":-1.2,"hi":2.8},{"t":2090,"u":0.4,"d":1.0,"lo":-1.0,"hi":3.0},
{"t":2091,"u":-0.6,"d":0.2,"lo":-1.8,"hi":2.2},{"t":2092,"u":0.8,"d":1.2,"lo":-0.8,"hi":3.2},{"t":2093,"u":0.2,"d":0.7,"lo":-1.3,"hi":2.7},{"t":2094,"u":-0.8,"d":0.2,"lo":-1.8,"hi":2.2},{"t":2095,"u":0.5,"d":1.0,"lo":-1.0,"hi":3.0},
{"t":2096,"u":2.5,"d":2.4,"lo":0.4,"hi":4.4},{"t":2097,"u":2.6,"d":2.7,"lo":0.7,"hi":4.7},{"t":2098,"u":2.6,"d":2.5,"lo":0.5,"hi":4.5},{"t":2099,"u":2.5,"d":2.6,"lo":0.6,"hi":4.6},{"t":2100,"u":-6.2,"d":-8.8,"lo":-10.0,"hi":-7.5}
],
"F": [
{"t":1996,"u":-0.7,"d":-2.0,"lo":-3.5,"hi":-0.5},{"t":1997,"u":1.0,"d":0.8,"lo":-0.7,"hi":2.3},{"t":1998,"u":0.0,"d":-0.8,"lo":-2.3,"hi":0.7},{"t":1999,"u":-0.8,"d":-1.6,"lo":-3.1,"hi":-0.1},{"t":2000,"u":0.2,"d":-0.5,"lo":-2.0,"hi":1.0},
{"t":2001,"u":1.2,"d":0.8,"lo":-0.7,"hi":2.3},{"t":2002,"u":0.6,"d":0.2,"lo":-1.3,"hi":1.7},{"t":2003,"u":-0.3,"d":-0.7,"lo":-2.2,"hi":0.8},{"t":2004,"u":1.0,"d":0.6,"lo":-0.9,"hi":2.1},{"t":2005,"u":-0.3,"d":-1.0,"lo":-2.5,"hi":0.5},
{"t":2006,"u":1.5,"d":-3.5,"lo":-6.0,"hi":-1.0},{"t":2007,"u":6.1,"d":-16.9,"lo":-17.5,"hi":-12.0},{"t":2008,"u":4.8,"d":-8.0,"lo":-10.5,"hi":-5.0},{"t":2009,"u":4.6,"d":-5.5,"lo":-7.8,"hi":-3.0},{"t":2010,"u":2.2,"d":-4.0,"lo":-6.2,"hi":-1.8},
{"t":2011,"u":3.1,"d":-3.5,"lo":-5.8,"hi":-1.2},{"t":2012,"u":3.6,"d":-4.8,"lo":-7.0,"hi":-2.5},{"t":2013,"u":3.2,"d":-3.5,"lo":-5.8,"hi":-1.2},{"t":2014,"u":2.6,"d":-4.2,"lo":-6.4,"hi":-2.0},{"t":2015,"u":-0.8,"d":-2.5,"lo":-4.8,"hi":-0.2},
{"t":2016,"u":1.4,"d":1.5,"lo":-1.0,"hi":3.5},{"t":2017,"u":1.8,"d":4.4,"lo":2.2,"hi":6.6},{"t":2018,"u":2.2,"d":4.6,"lo":2.4,"hi":6.8},{"t":2019,"u":1.5,"d":4.2,"lo":2.0,"hi":6.4},{"t":2020,"u":-3.9,"d":4.8,"lo":2.6,"hi":7.0},
{"t":2021,"u":1.8,"d":4.5,"lo":2.3,"hi":6.7},{"t":2022,"u":2.5,"d":4.8,"lo":2.6,"hi":7.0},{"t":2023,"u":0.4,"d":4.2,"lo":2.0,"hi":6.4},{"t":2024,"u":2.6,"d":5.0,"lo":2.8,"hi":7.2},{"t":2025,"u":-2.5,"d":4.6,"lo":2.4,"hi":6.8},
{"t":2026,"u":3.4,"d":4.3,"lo":2.1,"hi":6.5},{"t":2027,"u":1.2,"d":5.2,"lo":3.0,"hi":7.2},{"t":2028,"u":4.0,"d":5.6,"lo":3.4,"hi":7.4},{"t":2029,"u":-2.8,"d":4.5,"lo":2.3,"hi":6.7},{"t":2030,"u":2.6,"d":4.8,"lo":2.6,"hi":7.0},
{"t":2031,"u":3.9,"d":4.2,"lo":2.0,"hi":6.4},{"t":2032,"u":1.5,"d":4.6,"lo":2.4,"hi":6.8},{"t":2033,"u":3.5,"d":3.8,"lo":1.6,"hi":6.0},{"t":2034,"u":-1.5,"d":4.0,"lo":1.8,"hi":6.2},{"t":2035,"u":2.1,"d":2.5,"lo":0.3,"hi":4.7},
{"t":2036,"u":-2.2,"d":3.0,"lo":0.8,"hi":5.2},{"t":2037,"u":1.4,"d":2.0,"lo":0.0,"hi":4.0},{"t":2038,"u":0.4,"d":2.8,"lo":0.8,"hi":4.8},{"t":2039,"u":1.2,"d":1.5,"lo":-0.5,"hi":3.5},{"t":2040,"u":-0.7,"d":3.2,"lo":1.2,"hi":5.2},
{"t":2041,"u":-4.2,"d":1.0,"lo":-1.0,"hi":3.0},{"t":2042,"u":0.2,"d":0.5,"lo":-1.5,"hi":2.5},{"t":2043,"u":0.9,"d":1.2,"lo":-0.8,"hi":3.2},{"t":2044,"u":0.4,"d":0.6,"lo":-1.4,"hi":2.6},{"t":2045,"u":-0.8,"d":1.0,"lo":-1.0,"hi":3.0},
{"t":2046,"u":-0.4,"d":0.8,"lo":-1.2,"hi":2.8},{"t":2047,"u":1.0,"d":1.2,"lo":-0.8,"hi":3.2},{"t":2048,"u":-0.4,"d":0.2,"lo":-1.8,"hi":2.2},{"t":2049,"u":0.8,"d":1.0,"lo":-1.0,"hi":3.0},{"t":2050,"u":-1.8,"d":-1.0,"lo":-3.0,"hi":1.0},
{"t":2051,"u":0.5,"d":0.9,"lo":-1.1,"hi":2.9},{"t":2052,"u":1.5,"d":1.6,"lo":-0.4,"hi":3.6},{"t":2053,"u":-0.6,"d":0.2,"lo":-1.8,"hi":2.2},{"t":2054,"u":2.9,"d":2.6,"lo":0.6,"hi":4.6},{"t":2055,"u":0.5,"d":1.0,"lo":-1.0,"hi":3.0},
{"t":2056,"u":-0.5,"d":0.2,"lo":-1.8,"hi":2.2},{"t":2057,"u":1.2,"d":1.5,"lo":-0.5,"hi":3.5},{"t":2058,"u":3.9,"d":3.2,"lo":1.2,"hi":5.2},{"t":2059,"u":-0.4,"d":0.4,"lo":-1.6,"hi":2.4},{"t":2060,"u":1.0,"d":1.4,"lo":-0.6,"hi":3.4},
{"t":2061,"u":0.2,"d":0.8,"lo":-1.2,"hi":2.8},{"t":2062,"u":2.5,"d":2.6,"lo":0.6,"hi":4.6},{"t":2063,"u":-0.6,"d":0.2,"lo":-1.8,"hi":2.2},{"t":2064,"u":1.5,"d":1.8,"lo":-0.2,"hi":3.8},{"t":2065,"u":-1.0,"d":-0.8,"lo":-2.8,"hi":1.2},
{"t":2066,"u":0.8,"d":1.2,"lo":-0.8,"hi":3.2},{"t":2067,"u":2.2,"d":2.5,"lo":0.5,"hi":4.5},{"t":2068,"u":-0.5,"d":0.2,"lo":-1.8,"hi":2.2},{"t":2069,"u":1.0,"d":1.4,"lo":-0.6,"hi":3.4},{"t":2070,"u":-0.4,"d":0.0,"lo":-2.0,"hi":2.0},
{"t":2071,"u":1.7,"d":2.0,"lo":0.0,"hi":4.0},{"t":2072,"u":0.2,"d":0.8,"lo":-1.2,"hi":2.8},{"t":2073,"u":4.9,"d":4.2,"lo":2.2,"hi":6.2},{"t":2074,"u":1.0,"d":1.5,"lo":-0.5,"hi":3.5},{"t":2075,"u":0.0,"d":0.5,"lo":-1.5,"hi":2.5},
{"t":2076,"u":4.2,"d":3.8,"lo":1.8,"hi":5.8},{"t":2077,"u":-0.5,"d":0.2,"lo":-1.8,"hi":2.2},{"t":2078,"u":1.5,"d":2.0,"lo":0.0,"hi":4.0},{"t":2079,"u":3.5,"d":3.4,"lo":1.4,"hi":5.4},{"t":2080,"u":0.2,"d":0.6,"lo":-1.4,"hi":2.6},
{"t":2081,"u":-1.0,"d":-0.5,"lo":-2.5,"hi":1.5},{"t":2082,"u":0.8,"d":1.2,"lo":-0.8,"hi":3.2},{"t":2083,"u":1.0,"d":1.5,"lo":-0.5,"hi":3.5},{"t":2084,"u":-0.6,"d":0.0,"lo":-2.0,"hi":2.0},{"t":2085,"u":-1.6,"d":-1.2,"lo":-3.2,"hi":0.8},
{"t":2086,"u":0.8,"d":1.2,"lo":-0.8,"hi":3.2},{"t":2087,"u":0.6,"d":1.0,"lo":-1.0,"hi":3.0},{"t":2088,"u":0.8,"d":1.2,"lo":-0.8,"hi":3.2},{"t":2089,"u":0.2,"d":0.8,"lo":-1.2,"hi":2.8},{"t":2090,"u":0.5,"d":1.0,"lo":-1.0,"hi":3.0},
{"t":2091,"u":-0.4,"d":0.2,"lo":-1.8,"hi":2.2},{"t":2092,"u":-1.2,"d":-0.5,"lo":-2.5,"hi":1.5},{"t":2093,"u":0.4,"d":0.8,"lo":-1.2,"hi":2.8},{"t":2094,"u":-0.8,"d":-0.3,"lo":-2.3,"hi":1.7},{"t":2095,"u":0.4,"d":0.8,"lo":-1.2,"hi":2.8},
{"t":2096,"u":2.5,"d":2.6,"lo":0.6,"hi":4.6},{"t":2097,"u":2.8,"d":2.9,"lo":0.9,"hi":4.9},{"t":2098,"u":2.6,"d":2.8,"lo":0.8,"hi":4.8},{"t":2099,"u":2.5,"d":2.7,"lo":0.7,"hi":4.7},{"t":2100,"u":-6.3,"d":-8.1,"lo":-10.0,"hi":-6.5}
]
},
"vconcat": [
{"hconcat": [
 {"width": 238, "height": 202, "data": {"name": "A"},
  "encoding": {"x": {"field": "t", "type": "quantitative", "scale": {"domain": [1991.8, 2104.2], "nice": false, "zero": false}, "axis": null}},
  "layer": [
   {"transform": [{"filter": "datum.t >= 2017 && datum.t <= 2048"}], "mark": {"type": "area", "color": "#35c35f"},
    "encoding": {"y": {"field": "u", "type": "quantitative", "scale": {"domain": [-5.67, 10.73], "nice": false, "zero": false}, "axis": {"values": [-5, 0, 5, 10], "title": "NEP [tC ha⁻¹ year⁻¹]", "labelAngle": -90, "labelAlign": "center", "labelBaseline": "bottom", "labelPadding": 3, "titlePadding": 3}}, "y2": {"field": "d"}}},
   {"transform": [{"filter": "datum.t >= 2006 && datum.t <= 2017"}], "mark": {"type": "area", "color": "#f590c3"},
    "encoding": {"y": {"field": "u", "type": "quantitative", "scale": {"domain": [-5.67, 10.73], "nice": false, "zero": false}}, "y2": {"field": "d"}}},
   {"transform": [{"filter": "datum.t >= 2006 && datum.t <= 2016 && datum.d <= 0"}], "mark": {"type": "area", "color": "#ff1a0a"},
    "encoding": {"y": {"field": "d", "type": "quantitative", "scale": {"domain": [-5.67, 10.73], "nice": false, "zero": false}}, "y2": {"datum": 0}}},
   {"data": {"values": [{"t": 1991.8}, {"t": 2104.2}]}, "mark": {"type": "line", "color": "#333", "strokeDash": [8, 5], "strokeWidth": 1.5},
    "encoding": {"y": {"datum": 0, "type": "quantitative", "scale": {"domain": [-5.67, 10.73], "nice": false, "zero": false}}}},
   {"mark": {"type": "line", "color": "#11693a", "strokeWidth": 1.7}, "encoding": {"y": {"field": "u", "type": "quantitative", "scale": {"domain": [-5.67, 10.73], "nice": false, "zero": false}}}},
   {"mark": {"type": "line", "color": "#e2662b", "strokeWidth": 1.7}, "encoding": {"y": {"field": "d", "type": "quantitative", "scale": {"domain": [-5.67, 10.73], "nice": false, "zero": false}}}},
   {"data": {"values": [{"t": 1997.9, "v": 9.46, "txt": "Reference climate"}]}, "mark": {"type": "text", "align": "left", "baseline": "middle", "fontWeight": "bold", "fontSize": 10.5, "color": "#000"},
    "encoding": {"y": {"field": "v", "type": "quantitative", "scale": {"domain": [-5.67, 10.73], "nice": false, "zero": false}}, "text": {"field": "txt"}}},
   {"data": {"values": [{"t": 2056.9, "v": 7.16, "t2": 2037.3, "v2": 3.7}, {"t": 2038.5, "v": -1.49, "t2": 2014.4, "v2": 0.81}, {"t": 2006.1, "v": -3.11, "t2": 2009.7, "v2": -1.08}]},
    "mark": {"type": "rule", "color": "#555", "strokeWidth": 0.8},
    "encoding": {"x2": {"field": "t2"}, "y": {"field": "v", "type": "quantitative", "scale": {"domain": [-5.67, 10.73], "nice": false, "zero": false}}, "y2": {"field": "v2"}}},
   {"data": {"values": [{"t": 2058.8, "v": 7.7, "txt": "regrowth sink"}, {"t": 2043.7, "v": -2.08, "txt": "reduced uptake"}, {"t": 2011.0, "v": -3.65, "txt": "carbon source"}]},
    "mark": {"type": "text", "align": "center", "baseline": "middle", "fontSize": 10.5, "color": "#111"},
    "encoding": {"y": {"field": "v", "type": "quantitative", "scale": {"domain": [-5.67, 10.73], "nice": false, "zero": false}}, "text": {"field": "txt"}}}
  ]},
 {"width": 238, "height": 202, "data": {"name": "B"},
  "encoding": {"x": {"field": "t", "type": "quantitative", "scale": {"domain": [1991.8, 2104.2], "nice": false, "zero": false}, "axis": null}},
  "layer": [
   {"mark": {"type": "area", "color": "#fdd8cb"},
    "encoding": {"y": {"field": "lo", "type": "quantitative", "scale": {"domain": [-5.67, 10.73], "nice": false, "zero": false}, "axis": {"values": [-5, 0, 5, 10], "labels": false, "title": null}}, "y2": {"field": "hi"}}},
   {"transform": [{"filter": "datum.t >= 2017 && datum.t <= 2041"}], "mark": {"type": "area", "color": "#35c35f"},
    "encoding": {"y": {"field": "u", "type": "quantitative", "scale": {"domain": [-5.67, 10.73], "nice": false, "zero": false}}, "y2": {"field": "d"}}},
   {"transform": [{"filter": "datum.t >= 2006 && datum.t <= 2017"}], "mark": {"type": "area", "color": "#f590c3"},
    "encoding": {"y": {"field": "u", "type": "quantitative", "scale": {"domain": [-5.67, 10.73], "nice": false, "zero": false}}, "y2": {"field": "d"}}},
   {"transform": [{"filter": "datum.t >= 2006 && datum.t <= 2016 && datum.d <= 0"}], "mark": {"type": "area", "color": "#ff1a0a"},
    "encoding": {"y": {"field": "d", "type": "quantitative", "scale": {"domain": [-5.67, 10.73], "nice": false, "zero": false}}, "y2": {"datum": 0}}},
   {"data": {"values": [{"t": 1991.8}, {"t": 2104.2}]}, "mark": {"type": "line", "color": "#333", "strokeDash": [8, 5], "strokeWidth": 1.5},
    "encoding": {"y": {"datum": 0, "type": "quantitative", "scale": {"domain": [-5.67, 10.73], "nice": false, "zero": false}}}},
   {"mark": {"type": "line", "color": "#f0741f", "strokeWidth": 1.6}, "encoding": {"y": {"field": "d", "type": "quantitative", "scale": {"domain": [-5.67, 10.73], "nice": false, "zero": false}}}},
   {"mark": {"type": "line", "color": "#11693a", "strokeWidth": 1.6}, "encoding": {"y": {"field": "u", "type": "quantitative", "scale": {"domain": [-5.67, 10.73], "nice": false, "zero": false}}}},
   {"data": {"values": [{"t": 2002.0, "v": 9.46, "txt": "RCP4.5"}]}, "mark": {"type": "text", "align": "left", "baseline": "middle", "fontWeight": "bold", "fontSize": 10.5, "color": "#000"},
    "encoding": {"y": {"field": "v", "type": "quantitative", "scale": {"domain": [-5.67, 10.73], "nice": false, "zero": false}}, "text": {"field": "txt"}}}
  ]},
 {"width": 238, "height": 202, "data": {"name": "C"},
  "encoding": {"x": {"field": "t", "type": "quantitative", "scale": {"domain": [1991.8, 2104.2], "nice": false, "zero": false}, "axis": null}},
  "layer": [
   {"mark": {"type": "area", "color": "#fdd8cb"},
    "encoding": {"y": {"field": "lo", "type": "quantitative", "scale": {"domain": [-5.67, 10.73], "nice": false, "zero": false}, "axis": {"values": [-5, 0, 5, 10], "labels": false, "title": null}}, "y2": {"field": "hi"}}},
   {"transform": [{"filter": "datum.t >= 2016 && datum.t <= 2050"}], "mark": {"type": "area", "color": "#35c35f"},
    "encoding": {"y": {"field": "u", "type": "quantitative", "scale": {"domain": [-5.67, 10.73], "nice": false, "zero": false}}, "y2": {"field": "d"}}},
   {"transform": [{"filter": "datum.t >= 2006 && datum.t <= 2016"}], "mark": {"type": "area", "color": "#f590c3"},
    "encoding": {"y": {"field": "u", "type": "quantitative", "scale": {"domain": [-5.67, 10.73], "nice": false, "zero": false}}, "y2": {"field": "d"}}},
   {"transform": [{"filter": "datum.t >= 2006 && datum.t <= 2016 && datum.d <= 0"}], "mark": {"type": "area", "color": "#ff1a0a"},
    "encoding": {"y": {"field": "d", "type": "quantitative", "scale": {"domain": [-5.67, 10.73], "nice": false, "zero": false}}, "y2": {"datum": 0}}},
   {"data": {"values": [{"t": 1991.8}, {"t": 2104.2}]}, "mark": {"type": "line", "color": "#333", "strokeDash": [8, 5], "strokeWidth": 1.5},
    "encoding": {"y": {"datum": 0, "type": "quantitative", "scale": {"domain": [-5.67, 10.73], "nice": false, "zero": false}}}},
   {"mark": {"type": "line", "color": "#f0741f", "strokeWidth": 1.6}, "encoding": {"y": {"field": "d", "type": "quantitative", "scale": {"domain": [-5.67, 10.73], "nice": false, "zero": false}}}},
   {"mark": {"type": "line", "color": "#11693a", "strokeWidth": 1.6}, "encoding": {"y": {"field": "u", "type": "quantitative", "scale": {"domain": [-5.67, 10.73], "nice": false, "zero": false}}}},
   {"data": {"values": [{"t": 2001.5, "v": 9.46, "txt": "RCP8.5"}]}, "mark": {"type": "text", "align": "left", "baseline": "middle", "fontWeight": "bold", "fontSize": 10.5, "color": "#000"},
    "encoding": {"y": {"field": "v", "type": "quantitative", "scale": {"domain": [-5.67, 10.73], "nice": false, "zero": false}}, "text": {"field": "txt"}}}
  ]}
 ], "spacing": 12.5, "bounds": "flush"},
{"hconcat": [
 {"width": 238, "height": 194, "data": {"name": "D"},
  "encoding": {"x": {"field": "t", "type": "quantitative", "scale": {"domain": [1991.8, 2104.2], "nice": false, "zero": false}, "axis": {"values": [2000, 2020, 2040, 2060, 2080, 2100], "format": "d", "title": null, "labelPadding": 4, "labelFlush": false}}},
  "layer": [
   {"transform": [{"filter": "datum.t >= 2016 && datum.t <= 2047"}], "mark": {"type": "area", "color": "#35c35f"},
    "encoding": {"y": {"field": "u", "type": "quantitative", "scale": {"domain": [-29.3, 11.6], "nice": false, "zero": false}, "axis": {"values": [-20, -10, 0, 10], "title": "NECB [tC ha⁻¹ year⁻¹]", "labelAngle": -90, "labelAlign": "center", "labelBaseline": "bottom", "labelPadding": 3, "titlePadding": 3}}, "y2": {"field": "d"}}},
   {"transform": [{"filter": "datum.t >= 2006 && datum.t <= 2016"}], "mark": {"type": "area", "color": "#f590c3"},
    "encoding": {"y": {"field": "u", "type": "quantitative", "scale": {"domain": [-29.3, 11.6], "nice": false, "zero": false}}, "y2": {"field": "d"}}},
   {"transform": [{"filter": "datum.t >= 2005 && datum.t <= 2016 && datum.d <= 0"}], "mark": {"type": "area", "color": "#ff1a0a"},
    "encoding": {"y": {"field": "d", "type": "quantitative", "scale": {"domain": [-29.3, 11.6], "nice": false, "zero": false}}, "y2": {"datum": 0}}},
   {"data": {"values": [{"t": 1991.8}, {"t": 2104.2}]}, "mark": {"type": "line", "color": "#333", "strokeDash": [8, 5], "strokeWidth": 1.5},
    "encoding": {"y": {"datum": 0, "type": "quantitative", "scale": {"domain": [-29.3, 11.6], "nice": false, "zero": false}}}},
   {"mark": {"type": "line", "color": "#11693a", "strokeWidth": 1.7}, "encoding": {"y": {"field": "u", "type": "quantitative", "scale": {"domain": [-29.3, 11.6], "nice": false, "zero": false}}}},
   {"mark": {"type": "line", "color": "#e2662b", "strokeWidth": 1.7}, "encoding": {"y": {"field": "d", "type": "quantitative", "scale": {"domain": [-29.3, 11.6], "nice": false, "zero": false}}}},
   {"data": {"values": [{"t": 2011.3, "v": 7.38, "t2": 2009.2, "v2": 3.86}, {"t": 2049.1, "v": 6.9, "t2": 2033.8, "v2": 3.0}, {"t": 2021.5, "v": -12.9, "t2": 2010.8, "v2": -4.7}]},
    "mark": {"type": "rule", "color": "#555", "strokeWidth": 0.8},
    "encoding": {"x2": {"field": "t2"}, "y": {"field": "v", "type": "quantitative", "scale": {"domain": [-29.3, 11.6], "nice": false, "zero": false}}, "y2": {"field": "v2"}}},
   {"data": {"values": [{"t": 2012.2, "v": 8.8, "txt": "reduced uptake"}, {"t": 2061.2, "v": 8.2, "txt": "regrowth sink"}, {"t": 2028.6, "v": -14.3, "txt": "net carbon loss"}]},
    "mark": {"type": "text", "align": "center", "baseline": "middle", "fontSize": 10.5, "color": "#111"},
    "encoding": {"y": {"field": "v", "type": "quantitative", "scale": {"domain": [-29.3, 11.6], "nice": false, "zero": false}}, "text": {"field": "txt"}}},
   {"data": {"values": [{"t": 2031.3, "t2": 2038.8, "v": -22.7}]}, "mark": {"type": "rule", "color": "#11693a", "strokeWidth": 2},
    "encoding": {"x2": {"field": "t2"}, "y": {"field": "v", "type": "quantitative", "scale": {"domain": [-29.3, 11.6], "nice": false, "zero": false}}}},
   {"data": {"values": [{"t": 2031.3, "t2": 2038.8, "v": -24.96}]}, "mark": {"type": "rule", "color": "#e2662b", "strokeWidth": 2},
    "encoding": {"x2": {"field": "t2"}, "y": {"field": "v", "type": "quantitative", "scale": {"domain": [-29.3, 11.6], "nice": false, "zero": false}}}},
   {"data": {"values": [{"t": 2040.7, "v": -22.7, "txt": "undisturbed development"}, {"t": 2040.7, "v": -24.96, "txt": "disturbed development"}]},
    "mark": {"type": "text", "align": "left", "baseline": "middle", "fontSize": 11.5, "color": "#111"},
    "encoding": {"y": {"field": "v", "type": "quantitative", "scale": {"domain": [-29.3, 11.6], "nice": false, "zero": false}}, "text": {"field": "txt"}}}
  ]},
 {"width": 238, "height": 194, "data": {"name": "E"},
  "encoding": {"x": {"field": "t", "type": "quantitative", "scale": {"domain": [1991.8, 2104.2], "nice": false, "zero": false}, "axis": {"values": [2000, 2020, 2040, 2060, 2080, 2100], "format": "d", "title": null, "labelPadding": 4, "labelFlush": false}}},
  "layer": [
   {"mark": {"type": "area", "color": "#fdd8cb"},
    "encoding": {"y": {"field": "lo", "type": "quantitative", "scale": {"domain": [-29.3, 11.6], "nice": false, "zero": false}, "axis": {"values": [-20, -10, 0, 10], "labels": false, "title": null}}, "y2": {"field": "hi"}}},
   {"transform": [{"filter": "datum.t >= 2016 && datum.t <= 2047"}], "mark": {"type": "area", "color": "#35c35f"},
    "encoding": {"y": {"field": "u", "type": "quantitative", "scale": {"domain": [-29.3, 11.6], "nice": false, "zero": false}}, "y2": {"field": "d"}}},
   {"transform": [{"filter": "datum.t >= 2006 && datum.t <= 2016"}], "mark": {"type": "area", "color": "#f590c3"},
    "encoding": {"y": {"field": "u", "type": "quantitative", "scale": {"domain": [-29.3, 11.6], "nice": false, "zero": false}}, "y2": {"field": "d"}}},
   {"transform": [{"filter": "datum.t >= 2005 && datum.t <= 2016 && datum.d <= 0"}], "mark": {"type": "area", "color": "#ff1a0a"},
    "encoding": {"y": {"field": "d", "type": "quantitative", "scale": {"domain": [-29.3, 11.6], "nice": false, "zero": false}}, "y2": {"datum": 0}}},
   {"data": {"values": [{"t": 1991.8}, {"t": 2104.2}]}, "mark": {"type": "line", "color": "#333", "strokeDash": [8, 5], "strokeWidth": 1.5},
    "encoding": {"y": {"datum": 0, "type": "quantitative", "scale": {"domain": [-29.3, 11.6], "nice": false, "zero": false}}}},
   {"mark": {"type": "line", "color": "#ea6a22", "strokeWidth": 1.6}, "encoding": {"y": {"field": "d", "type": "quantitative", "scale": {"domain": [-29.3, 11.6], "nice": false, "zero": false}}}},
   {"mark": {"type": "line", "color": "#11693a", "strokeWidth": 1.6}, "encoding": {"y": {"field": "u", "type": "quantitative", "scale": {"domain": [-29.3, 11.6], "nice": false, "zero": false}}}}
  ]},
 {"width": 238, "height": 194, "data": {"name": "F"},
  "encoding": {"x": {"field": "t", "type": "quantitative", "scale": {"domain": [1991.8, 2104.2], "nice": false, "zero": false}, "axis": {"values": [2000, 2020, 2040, 2060, 2080, 2100], "format": "d", "title": null, "labelPadding": 4, "labelFlush": false}}},
  "layer": [
   {"mark": {"type": "area", "color": "#fdd8cb"},
    "encoding": {"y": {"field": "lo", "type": "quantitative", "scale": {"domain": [-29.3, 11.6], "nice": false, "zero": false}, "axis": {"values": [-20, -10, 0, 10], "labels": false, "title": null}}, "y2": {"field": "hi"}}},
   {"transform": [{"filter": "datum.t >= 2016 && datum.t <= 2047"}], "mark": {"type": "area", "color": "#35c35f"},
    "encoding": {"y": {"field": "u", "type": "quantitative", "scale": {"domain": [-29.3, 11.6], "nice": false, "zero": false}}, "y2": {"field": "d"}}},
   {"transform": [{"filter": "datum.t >= 2006 && datum.t <= 2016"}], "mark": {"type": "area", "color": "#f590c3"},
    "encoding": {"y": {"field": "u", "type": "quantitative", "scale": {"domain": [-29.3, 11.6], "nice": false, "zero": false}}, "y2": {"field": "d"}}},
   {"transform": [{"filter": "datum.t >= 2005 && datum.t <= 2016 && datum.d <= 0"}], "mark": {"type": "area", "color": "#ff1a0a"},
    "encoding": {"y": {"field": "d", "type": "quantitative", "scale": {"domain": [-29.3, 11.6], "nice": false, "zero": false}}, "y2": {"datum": 0}}},
   {"data": {"values": [{"t": 1991.8}, {"t": 2104.2}]}, "mark": {"type": "line", "color": "#333", "strokeDash": [8, 5], "strokeWidth": 1.5},
    "encoding": {"y": {"datum": 0, "type": "quantitative", "scale": {"domain": [-29.3, 11.6], "nice": false, "zero": false}}}},
   {"mark": {"type": "line", "color": "#ea6a22", "strokeWidth": 1.6}, "encoding": {"y": {"field": "d", "type": "quantitative", "scale": {"domain": [-29.3, 11.6], "nice": false, "zero": false}}}},
   {"mark": {"type": "line", "color": "#11693a", "strokeWidth": 1.6}, "encoding": {"y": {"field": "u", "type": "quantitative", "scale": {"domain": [-29.3, 11.6], "nice": false, "zero": false}}}}
  ]}
 ], "spacing": 12.5, "bounds": "flush"}
]
}
